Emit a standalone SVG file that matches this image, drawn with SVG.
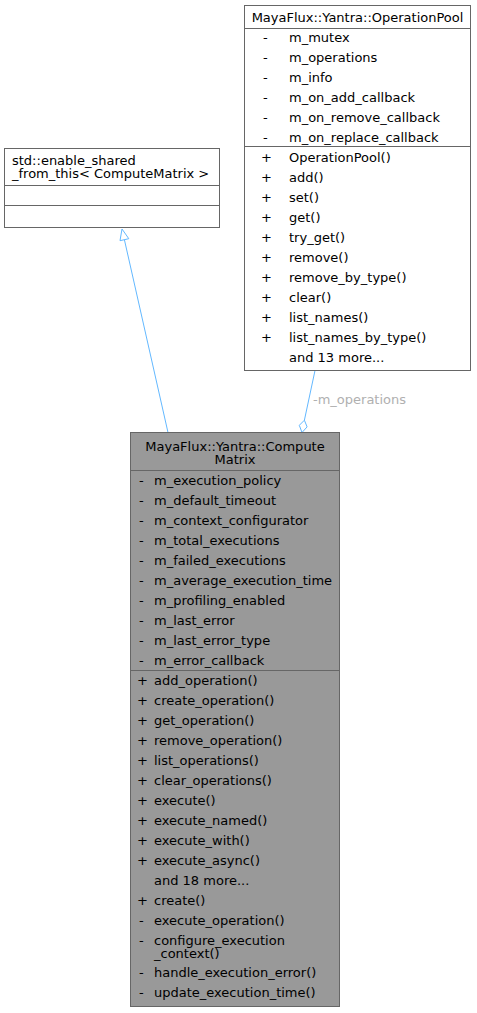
<svg xmlns="http://www.w3.org/2000/svg" width="477" height="1013" viewBox="0 0 477 1013">
<style>
text{font-family:"DejaVu Sans",sans-serif;font-size:13px;fill:#000}
.box{fill:#fff;stroke:#666;stroke-width:1}
.cur{fill:#999;stroke:#666;stroke-width:1}
.sep{stroke:#666;stroke-width:1}
.edge{stroke:#63b8ff;stroke-width:1;fill:none}
.head{stroke:#63b8ff;stroke-width:1;fill:#fff}
.lbl{fill:#b0b0b0}
.c{text-anchor:middle}
</style>
<rect width="477" height="1013" fill="#fff"/>
<g id="connectors">
<path class="edge" d="M168,432.5 L124.4,239.7"/>
<polygon class="head" points="122,229 128.8,238.7 120,240.7"/>
<path class="edge" d="M315,370.5 L304.4,420.2"/>
<polygon class="head" points="302,432.5 307.1,426.9 304.4,420.2 299.3,425.3"/>
<text class="lbl" x="313" y="404">-m_operations</text>
</g>
<g id="node_operationpool">
<rect class="box" x="244.5" y="5.5" width="226" height="365"/>
<line class="sep" x1="244.5" y1="28.5" x2="470.5" y2="28.5"/>
<line class="sep" x1="244.5" y1="146.5" x2="470.5" y2="146.5"/>
<text class="c" x="357.5" y="21.5">MayaFlux::Yantra::OperationPool</text>
<text x="263" y="41.5">-</text><text x="289" y="41.5">m_mutex</text>
<text x="263" y="61.5">-</text><text x="289" y="61.5">m_operations</text>
<text x="263" y="81.5">-</text><text x="289" y="81.5">m_info</text>
<text x="263" y="101.5">-</text><text x="289" y="101.5">m_on_add_callback</text>
<text x="263" y="121.5">-</text><text x="289" y="121.5">m_on_remove_callback</text>
<text x="263" y="141.5">-</text><text x="289" y="141.5">m_on_replace_callback</text>
<text x="261" y="162">+</text><text x="289" y="162">OperationPool()</text>
<text x="261" y="182">+</text><text x="289" y="182">add()</text>
<text x="261" y="202">+</text><text x="289" y="202">set()</text>
<text x="261" y="222">+</text><text x="289" y="222">get()</text>
<text x="261" y="242">+</text><text x="289" y="242">try_get()</text>
<text x="261" y="262">+</text><text x="289" y="262">remove()</text>
<text x="261" y="282">+</text><text x="289" y="282">remove_by_type()</text>
<text x="261" y="302">+</text><text x="289" y="302">clear()</text>
<text x="261" y="322">+</text><text x="289" y="322">list_names()</text>
<text x="261" y="342">+</text><text x="289" y="342">list_names_by_type()</text>
<text x="289" y="362">and 13 more...</text>
</g>
<g id="node_enable_shared">
<rect class="box" x="4.5" y="148.5" width="215" height="79"/>
<line class="sep" x1="4.5" y1="185.5" x2="219.5" y2="185.5"/>
<line class="sep" x1="4.5" y1="205.5" x2="219.5" y2="205.5"/>
<text x="12" y="165">std::enable_shared</text>
<text x="12" y="178">_from_this&lt; ComputeMatrix &gt;</text>
</g>
<g id="node_computematrix">
<rect class="cur" x="130.5" y="432.5" width="209" height="574"/>
<line class="sep" x1="130.5" y1="470.5" x2="339.5" y2="470.5"/>
<line class="sep" x1="130.5" y1="670.5" x2="339.5" y2="670.5"/>
<text class="c" x="235" y="450.5">MayaFlux::Yantra::Compute</text>
<text class="c" x="235" y="464">Matrix</text>
<text x="139" y="485">-</text><text x="154" y="485">m_execution_policy</text>
<text x="139" y="505">-</text><text x="154" y="505">m_default_timeout</text>
<text x="139" y="525">-</text><text x="154" y="525">m_context_configurator</text>
<text x="139" y="545">-</text><text x="154" y="545">m_total_executions</text>
<text x="139" y="565">-</text><text x="154" y="565">m_failed_executions</text>
<text x="139" y="585">-</text><text x="154" y="585">m_average_execution_time</text>
<text x="139" y="605">-</text><text x="154" y="605">m_profiling_enabled</text>
<text x="139" y="625">-</text><text x="154" y="625">m_last_error</text>
<text x="139" y="645">-</text><text x="154" y="645">m_last_error_type</text>
<text x="139" y="665">-</text><text x="154" y="665">m_error_callback</text>
<text x="137" y="685">+</text><text x="154" y="685">add_operation()</text>
<text x="137" y="705">+</text><text x="154" y="705">create_operation()</text>
<text x="137" y="725">+</text><text x="154" y="725">get_operation()</text>
<text x="137" y="745">+</text><text x="154" y="745">remove_operation()</text>
<text x="137" y="765">+</text><text x="154" y="765">list_operations()</text>
<text x="137" y="785">+</text><text x="154" y="785">clear_operations()</text>
<text x="137" y="805">+</text><text x="154" y="805">execute()</text>
<text x="137" y="825">+</text><text x="154" y="825">execute_named()</text>
<text x="137" y="845">+</text><text x="154" y="845">execute_with()</text>
<text x="137" y="865">+</text><text x="154" y="865">execute_async()</text>
<text x="154" y="885">and 18 more...</text>
<text x="137" y="905">+</text><text x="154" y="905">create()</text>
<text x="139" y="925">-</text><text x="154" y="925">execute_operation()</text>
<text x="139" y="944.5">-</text><text x="154" y="944.5">configure_execution</text>
<text x="154" y="957.5">_context()</text>
<text x="139" y="977">-</text><text x="154" y="977">handle_execution_error()</text>
<text x="139" y="997">-</text><text x="154" y="997">update_execution_time()</text>
</g>
</svg>
